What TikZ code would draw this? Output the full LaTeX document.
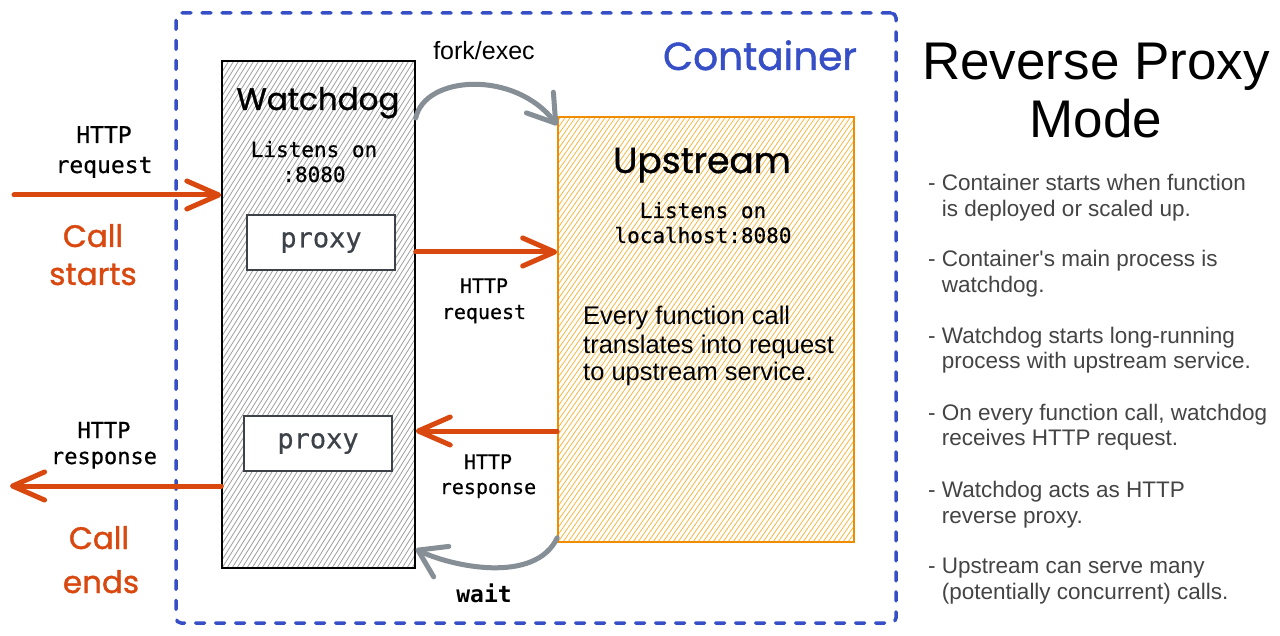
\documentclass[tikz,border=0pt]{standalone}
\usepackage{fontspec}
\setmainfont{Liberation Sans}
\newfontfamily\monof{DejaVu Sans Mono}[FakeBold=0.6]
\newfontfamily\monobf{DejaVu Sans Mono Bold}
\newfontfamily\handf{Poppins}[FakeBold=1.2]
\usetikzlibrary{arrows.meta}
\definecolor{cblue}{HTML}{364FC7}
\definecolor{corange}{HTML}{D9480F}
\definecolor{cgray}{HTML}{868E96}
\definecolor{cyel}{HTML}{F08C00}
\definecolor{cyelh}{HTML}{F9B845}
\definecolor{chatch}{HTML}{A0A0A0}
\definecolor{ctext}{HTML}{444444}
\definecolor{cproxy}{HTML}{3D4248}
\tikzset{
  hatch/.style n args={3}{path picture={
    \foreach \i in {-320,-315,...,320}{
      \draw[draw=#1,line width=#2] ([xshift=\i pt]path picture bounding box.south west) -- ++(#3:700pt);}}},
  mono/.style={font=\monof\fontsize{#1}{#1}\selectfont},
  monob/.style={font=\monobf\fontsize{#1}{#1}\selectfont},
  hand/.style={font=\handf\fontsize{#1}{#1}\selectfont},
  sans/.style={font=\fontsize{#1}{#1}\selectfont},
  lbl/.style={anchor=base,inner sep=0pt},
  lblw/.style={anchor=base west,inner sep=0pt},
  contbox/.style={draw=cblue,line width=3.5pt,dash pattern=on 9pt off 11pt,line cap=round,
    rounded corners=5pt,minimum width=720pt,minimum height=610pt,inner sep=0pt},
  wdbox/.style={draw=black,line width=1.4pt,fill=white,minimum width=193pt,minimum height=507pt,
    inner sep=0pt,hatch={chatch}{0.8pt}{58}},
  upbox/.style={draw=cyel,line width=1.6pt,fill=white,minimum width=296pt,minimum height=425pt,
    inner sep=0pt,hatch={cyelh}{0.8pt}{55}},
  proxybox/.style={draw=cproxy,line width=2.5pt,fill=white,minimum width=148pt,minimum height=55pt,
    inner sep=0pt,text=cproxy,mono=27},
  harrow/.style={draw=corange,line width=5pt,line cap=round,
    -{Straight Barb[length=32pt,width=28pt,round]}},
  garrow/.style={draw=cgray,line width=5pt,line cap=round,
    -{Straight Barb[length=26pt,width=34pt,round]}},
  bul/.style={lblw,text=ctext,sans=22.5},
}
\begin{document}
\begin{tikzpicture}[x=1pt,y=-1pt]
\useasboundingbox (0,0) rectangle (1280,636);
\fill[white] (0,0) rectangle (1280,636);

% container
\node[contbox] (cont) at (536,318) {};
\node[lbl,hand=39,text=cblue] (ctitle) at (760,70) {Container};

% boxes
\node[wdbox] (wd) at (318.5,314.5) {};
\node[upbox] (up) at (706,329.5) {};

% watchdog texts
\node[lbl,hand=31] (wdt) at (318,110) {Watchdog};
\node[lbl,mono=21] (wl1) at (314,157) {Listens on};
\node[lbl,mono=21] (wl2) at (314,182) {:8080};
\node[proxybox] (px1) at (321,242.5) {proxy};
\node[proxybox] (px2) at (318,443.5) {proxy};

% upstream texts
\node[lbl,hand=36] (upt) at (702,173) {Upstream};
\node[lbl,mono=21] (ul1) at (703,218) {Listens on};
\node[lbl,mono=21] (ul2) at (703,243) {localhost:8080};
\node[lblw,sans=25.5] (ue1) at (583,325) {Every function call};
\node[lblw,sans=25.5] (ue2) at (583,353) {translates into request};
\node[lblw,sans=25.5] (ue3) at (583,381) {to upstream service.};

% left labels
\node[lbl,mono=23] (lh1) at (104,143) {HTTP};
\node[lbl,mono=23] (lh2) at (104,173) {request};
\node[lbl,hand=31,text=corange] (cs1) at (93,247) {Call};
\node[lbl,hand=31,text=corange] (cs2) at (93,285) {starts};
\node[lbl,mono=22] (lr1) at (104,438) {HTTP};
\node[lbl,mono=22] (lr2) at (104,464) {response};
\node[lbl,hand=31,text=corange] (ce1) at (99,549) {Call};
\node[lbl,hand=31,text=corange] (ce2) at (101,593) {ends};

% middle labels
\node[lbl,sans=25] (fork) at (484,60) {fork/exec};
\node[lbl,mono=20] (mh1) at (484,293) {HTTP};
\node[lbl,mono=20] (mh2) at (484,319) {request};
\node[lbl,mono=20] (mr1) at (488,469) {HTTP};
\node[lbl,mono=20] (mr2) at (488,494) {response};
\node[lbl,monob=23] (wait) at (484,602) {wait};

% arrows
\coordinate (inL) at (14,195);
\draw[harrow] (inL) -- (inL -| wd.west);
\coordinate (outL) at (10,486);
\draw[harrow] (outL -| wd.west) -- (outL);
\coordinate (mreq) at (0,252);
\draw[harrow] (mreq -| wd.east) -- (mreq -| up.west);
\coordinate (mresp) at (0,431);
\draw[harrow] (mresp -| up.west) -- (mresp -| wd.east);
\coordinate (fk) at (0,118);
\draw[garrow] (fk -| wd.east) .. controls (425,75) and (515,70) .. ([yshift=-9pt]up.north west);
\coordinate (wk) at (0,549);
\draw[garrow] ([yshift=5pt]up.south west) .. controls (535,585) and (450,566) .. (wk -| wd.east);

% right panel
\node[lbl,sans=53] (t1) at (1096,80) {Reverse Proxy};
\node[lbl,sans=53] (t2) at (1096,138) {Mode};
\node[bul] (b1a) at (928,191) {- Container starts when function};
\node[bul] (b1b) at (928,217) {\hphantom{- }is deployed or scaled up.};
\node[bul] (b2a) at (928,267) {- Container\textquotesingle s main process is};
\node[bul] (b2b) at (928,293) {\hphantom{- }watchdog.};
\node[bul] (b3a) at (928,344) {- Watchdog starts long-running};
\node[bul] (b3b) at (928,369) {\hphantom{- }process with upstream service.};
\node[bul] (b4a) at (928,420) {- On every function call, watchdog};
\node[bul] (b4b) at (928,445) {\hphantom{- }receives HTTP request.};
\node[bul] (b5a) at (928,497) {- Watchdog acts as HTTP};
\node[bul] (b5b) at (928,523) {\hphantom{- }reverse proxy.};
\node[bul] (b6a) at (928,573) {- Upstream can serve many};
\node[bul] (b6b) at (928,599) {\hphantom{- }(potentially concurrent) calls.};
\end{tikzpicture}
\end{document}
